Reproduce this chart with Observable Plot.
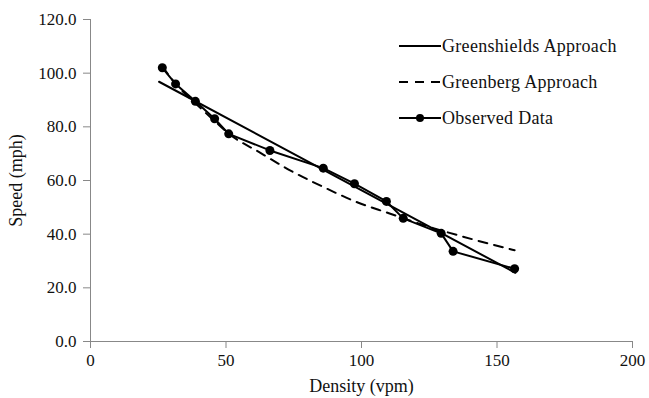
<!DOCTYPE html>
<html>
<head>
<meta charset="utf-8">
<script src="https://cdn.jsdelivr.net/npm/d3@7"></script>
<script src="https://cdn.jsdelivr.net/npm/@observablehq/plot@0.6"></script>
<style>
  body { margin: 0; background: #fff; }
  #wrap { position: relative; width: 649px; height: 398px; font-family: "Liberation Serif", "Times New Roman", serif; }
  #legend { position: absolute; left: 399px; top: 28px; font-size: 18px; letter-spacing: 0.3px; color: #111; }
  .row { display: flex; align-items: center; height: 36px; }
  .row svg { margin-right: 1px; }
</style>
</head>
<body>
<div id="wrap"></div>
<script>
// Observed data (density vpm, speed mph)
const obsDensity = [26.5, 31.4, 38.7, 45.8, 51.0, 66.2, 85.9, 97.4, 109.2, 115.4, 129.4, 133.8, 156.5];
const obsSpeed   = [102.0, 96.0, 89.5, 83.0, 77.4, 71.2, 64.6, 58.8, 52.2, 45.9, 40.3, 33.6, 27.1];

// Greenshields approach (straight line, endpoints)
const gsDensity = [25.3, 156.8];
const gsSpeed   = [96.8, 25.6];

// Greenberg approach (curve)
const gbDensity = [26.5, 31.0, 39.0, 46.0, 51.0, 62.7, 73.8, 86.1, 98.4, 110.1, 121.0, 135.9, 148.8, 156.5];
const gbSpeed   = [102.5, 96.5, 88.5, 82.0, 77.5, 70.3, 63.7, 57.5, 51.9, 47.8, 44.0, 39.5, 36.0, 34.0];

const xTicks = [0, 50, 100, 150, 200];
const yTicks = [0, 20, 40, 60, 80, 100, 120];

const legendItems = ["Greenshields Approach", "Greenberg Approach", "Observed Data"];

const obs = obsDensity.map((d, i) => ({x: d, y: obsSpeed[i]}));
const gs = gsDensity.map((d, i) => ({x: d, y: gsSpeed[i]}));
const gb = gbDensity.map((d, i) => ({x: d, y: gbSpeed[i]}));

const chart = Plot.plot({
  width: 649,
  height: 398,
  marginLeft: 90,
  marginRight: 17,
  marginTop: 19,
  marginBottom: 57,
  style: {fontFamily: '"Liberation Serif", "Times New Roman", serif', fontSize: "17px", color: "#111", background: "#fff"},
  x: {domain: [0, 200]},
  y: {domain: [0, 120]},
  marks: [
    Plot.axisX({ticks: xTicks, tickSize: 7, tickPadding: 5, stroke: "#888", fontSize: 17, label: null}),
    Plot.axisX({ticks: [], label: "Density (vpm)", labelAnchor: "center", labelArrow: "none", labelOffset: 50, fontSize: 18}),
    Plot.axisY({ticks: yTicks, tickSize: 7, tickPadding: 7, stroke: "#888", fontSize: 17, tickFormat: d3.format(".1f"), label: null}),
    Plot.axisY({ticks: [], label: "Speed (mph)", labelAnchor: "center", labelArrow: "none", labelOffset: 81, fontSize: 18}),
    Plot.ruleX([0], {stroke: "#888", strokeWidth: 1}),
    Plot.ruleY([0], {stroke: "#888", strokeWidth: 1}),
    Plot.line(gb, {x: "x", y: "y", stroke: "#000", strokeWidth: 2, strokeDasharray: "9,7", curve: "monotone-x"}),
    Plot.line(gs, {x: "x", y: "y", stroke: "#000", strokeWidth: 2}),
    Plot.line(obs, {x: "x", y: "y", stroke: "#000", strokeWidth: 2}),
    Plot.dot(obs, {x: "x", y: "y", r: 4.5, fill: "#000"})
  ]
});

const wrap = document.getElementById("wrap");
wrap.appendChild(chart);

const legend = document.createElement("div");
legend.id = "legend";
const swatches = [
  '<line x1="0" y1="6" x2="42" y2="6" stroke="#000" stroke-width="2"/>',
  '<line x1="0" y1="6" x2="42" y2="6" stroke="#000" stroke-width="2" stroke-dasharray="9,7"/>',
  '<line x1="0" y1="6" x2="42" y2="6" stroke="#000" stroke-width="2"/><circle cx="21" cy="6" r="4" fill="#000"/>'
];
legendItems.forEach((name, i) => {
  const row = document.createElement("div");
  row.className = "row";
  row.innerHTML = `<svg width="42" height="12">${swatches[i]}</svg><span>${name}</span>`;
  legend.appendChild(row);
});
wrap.appendChild(legend);
</script>
</body>
</html>
